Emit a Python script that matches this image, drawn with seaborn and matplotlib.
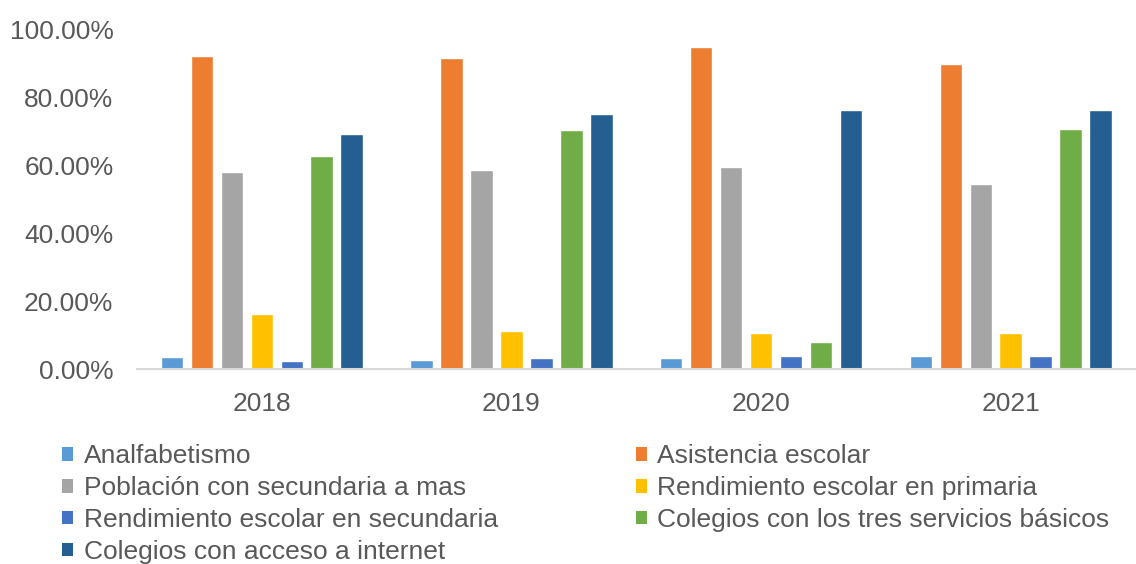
import matplotlib
matplotlib.use("Agg")
import matplotlib.pyplot as plt
import seaborn as sns
import pandas as pd
from matplotlib.patches import Patch
from matplotlib.ticker import PercentFormatter

years = ["2018", "2019", "2020", "2021"]
series = [
    "Analfabetismo",
    "Asistencia escolar",
    "Población con secundaria a mas",
    "Rendimiento escolar en primaria",
    "Rendimiento escolar en secundaria",
    "Colegios con los tres servicios básicos",
    "Colegios con acceso a internet",
]
analfabetismo = [0.036, 0.028, 0.033, 0.038]
asistencia = [0.922, 0.915, 0.946, 0.896]
poblacion_sec = [0.581, 0.586, 0.594, 0.546]
rend_primaria = [0.164, 0.114, 0.106, 0.106]
rend_secundaria = [0.026, 0.033, 0.038, 0.038]
colegios_servicios = [0.626, 0.702, 0.082, 0.706]
colegios_internet = [0.693, 0.749, 0.761, 0.761]

colors = ["#5B9BD5", "#ED7D31", "#A5A5A5", "#FFC000", "#4472C4", "#70AD47", "#255E91"]

values = [analfabetismo, asistencia, poblacion_sec, rend_primaria,
          rend_secundaria, colegios_servicios, colegios_internet]
rows = []
for s, vals in zip(series, values):
    for y, v in zip(years, vals):
        rows.append({"Año": y, "Serie": s, "Valor": v})
df = pd.DataFrame(rows)

sns.set_style("white")
plt.rcParams["font.family"] = ["Liberation Sans", "DejaVu Sans"]
text_color = "#595959"

fig = plt.figure(figsize=(11.36, 5.64), dpi=100)
ax = fig.add_axes([0.1206, 0.345, 0.879, 0.6035])

sns.barplot(data=df, x="Año", y="Valor", hue="Serie", hue_order=series,
            order=years, palette=colors, width=0.84, gap=0.25,
            saturation=1, legend=False, ax=ax, errorbar=None)

ax.set_xlim(-0.5, 3.5)
ax.set_ylim(0, 1.0)
ax.set_yticks([0, 0.2, 0.4, 0.6, 0.8, 1.0])
ax.yaxis.set_major_formatter(PercentFormatter(1.0, decimals=2))
ax.set_xlabel("")
ax.set_ylabel("")
for sp in ["top", "right", "left"]:
    ax.spines[sp].set_visible(False)
ax.spines["bottom"].set_color("#D9D9D9")
ax.spines["bottom"].set_linewidth(1.5)
ax.tick_params(axis="y", length=0, labelsize=19, labelcolor=text_color, pad=17)
ax.tick_params(axis="x", length=0, labelsize=19, labelcolor=text_color, pad=16)
ax.grid(False)

col1 = [0, 2, 4, 6]
col2 = [1, 3, 5]
for idx, xpos in [(col1, 0.055), (col2, 0.560)]:
    handles = [Patch(facecolor=colors[i], edgecolor="none") for i in idx]
    labels = [series[i] for i in idx]
    leg = fig.legend(handles, labels, loc="upper left",
                     bbox_to_anchor=(xpos, 0.212), frameon=False,
                     fontsize=19, handlelength=0.4, handleheight=0.4,
                     handletextpad=0.4, labelspacing=0.3, borderpad=0,
                     borderaxespad=0)
    for t in leg.get_texts():
        t.set_color(text_color)

fig.savefig("out.png", dpi=100)
